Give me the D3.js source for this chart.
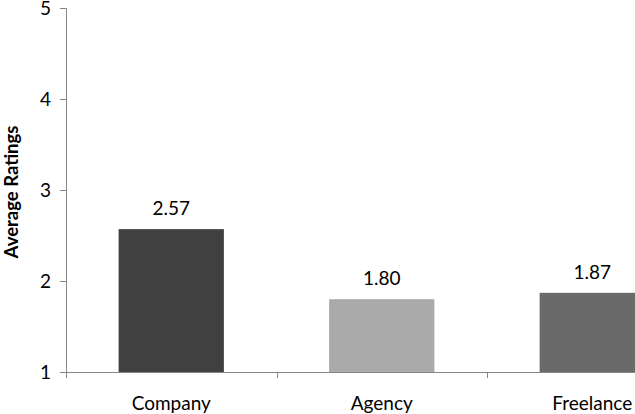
<!DOCTYPE html>
<html><head><meta charset="utf-8">
<script src="https://cdn.jsdelivr.net/npm/d3@7/dist/d3.min.js"></script>
<style>body{margin:0;background:#fff;} svg{display:block;} text{font-family:Lato,"Open Sans",sans-serif;fill:#000;}</style>
</head><body>
<svg id="c" width="635" height="414"></svg>
<script>
const categories = ["Company", "Agency", "Freelance"];
const values = [2.57, 1.80, 1.87];
const labels = ["2.57", "1.80", "1.87"];
const colors = ["#404040", "#aaaaaa", "#6a6a6a"];
const yTicks = [1, 2, 3, 4, 5];

const svg = d3.select("#c");
const mLeft = 66, mTop = 8, mBottom = 372, plotRight = 697.5;
const x = d3.scaleBand().domain(categories).range([mLeft, plotRight]).paddingInner(0).paddingOuter(0);
const y = d3.scaleLinear().domain([1, 5]).range([mBottom, mTop]);

const bw = x.bandwidth() * 0.5;
svg.selectAll("rect.bar").data(categories).enter().append("rect")
  .attr("x", (d) => x(d) + x.bandwidth()/2 - bw/2)
  .attr("width", bw)
  .attr("y", (d, i) => y(values[i]))
  .attr("height", (d, i) => y(1) - y(values[i]))
  .attr("fill", (d, i) => colors[i]);

// y axis
const ya = svg.append("g").attr("transform", `translate(${mLeft},0)`)
  .call(d3.axisLeft(y).tickValues(yTicks).tickFormat(d3.format("d")).tickSize(6).tickPadding(9));
ya.select(".domain").attr("stroke", "#868686").attr("d", `M-6,${mTop+0.5}H0.5V${mBottom+0.5}`);
ya.selectAll(".tick line").attr("stroke", "#868686");
ya.selectAll(".tick text").style("font-size", "19px").attr("dy", "0.32em");

// x axis
const xa = svg.append("g").attr("transform", `translate(0,${mBottom})`);
xa.append("line").attr("x1", mLeft).attr("x2", plotRight).attr("y1", 0.5).attr("y2", 0.5).attr("stroke", "#868686");
const bounds = categories.map(d => x(d)).concat([plotRight]);
xa.selectAll("line.t").data(bounds).enter().append("line")
  .attr("x1", d => Math.round(d) + 0.5).attr("x2", d => Math.round(d) + 0.5)
  .attr("y1", 0).attr("y2", 6).attr("stroke", "#868686");
xa.selectAll("text").data(categories).enter().append("text")
  .attr("x", d => x(d) + x.bandwidth()/2).attr("y", 38)
  .attr("text-anchor", "middle").style("font-size", "19px").text(d => d);

// value labels
svg.selectAll("text.val").data(categories).enter().append("text")
  .attr("x", d => x(d) + x.bandwidth()/2)
  .attr("y", (d, i) => y(values[i]) - 14)
  .attr("text-anchor", "middle").style("font-size", "19px")
  .text((d, i) => labels[i]);

// y title
svg.append("text").attr("transform", `translate(18,192) rotate(-90)`)
  .attr("text-anchor", "middle").style("font-size", "18.5px").style("font-weight", "bold")
  .text("Average Ratings");
</script>
</body></html>
